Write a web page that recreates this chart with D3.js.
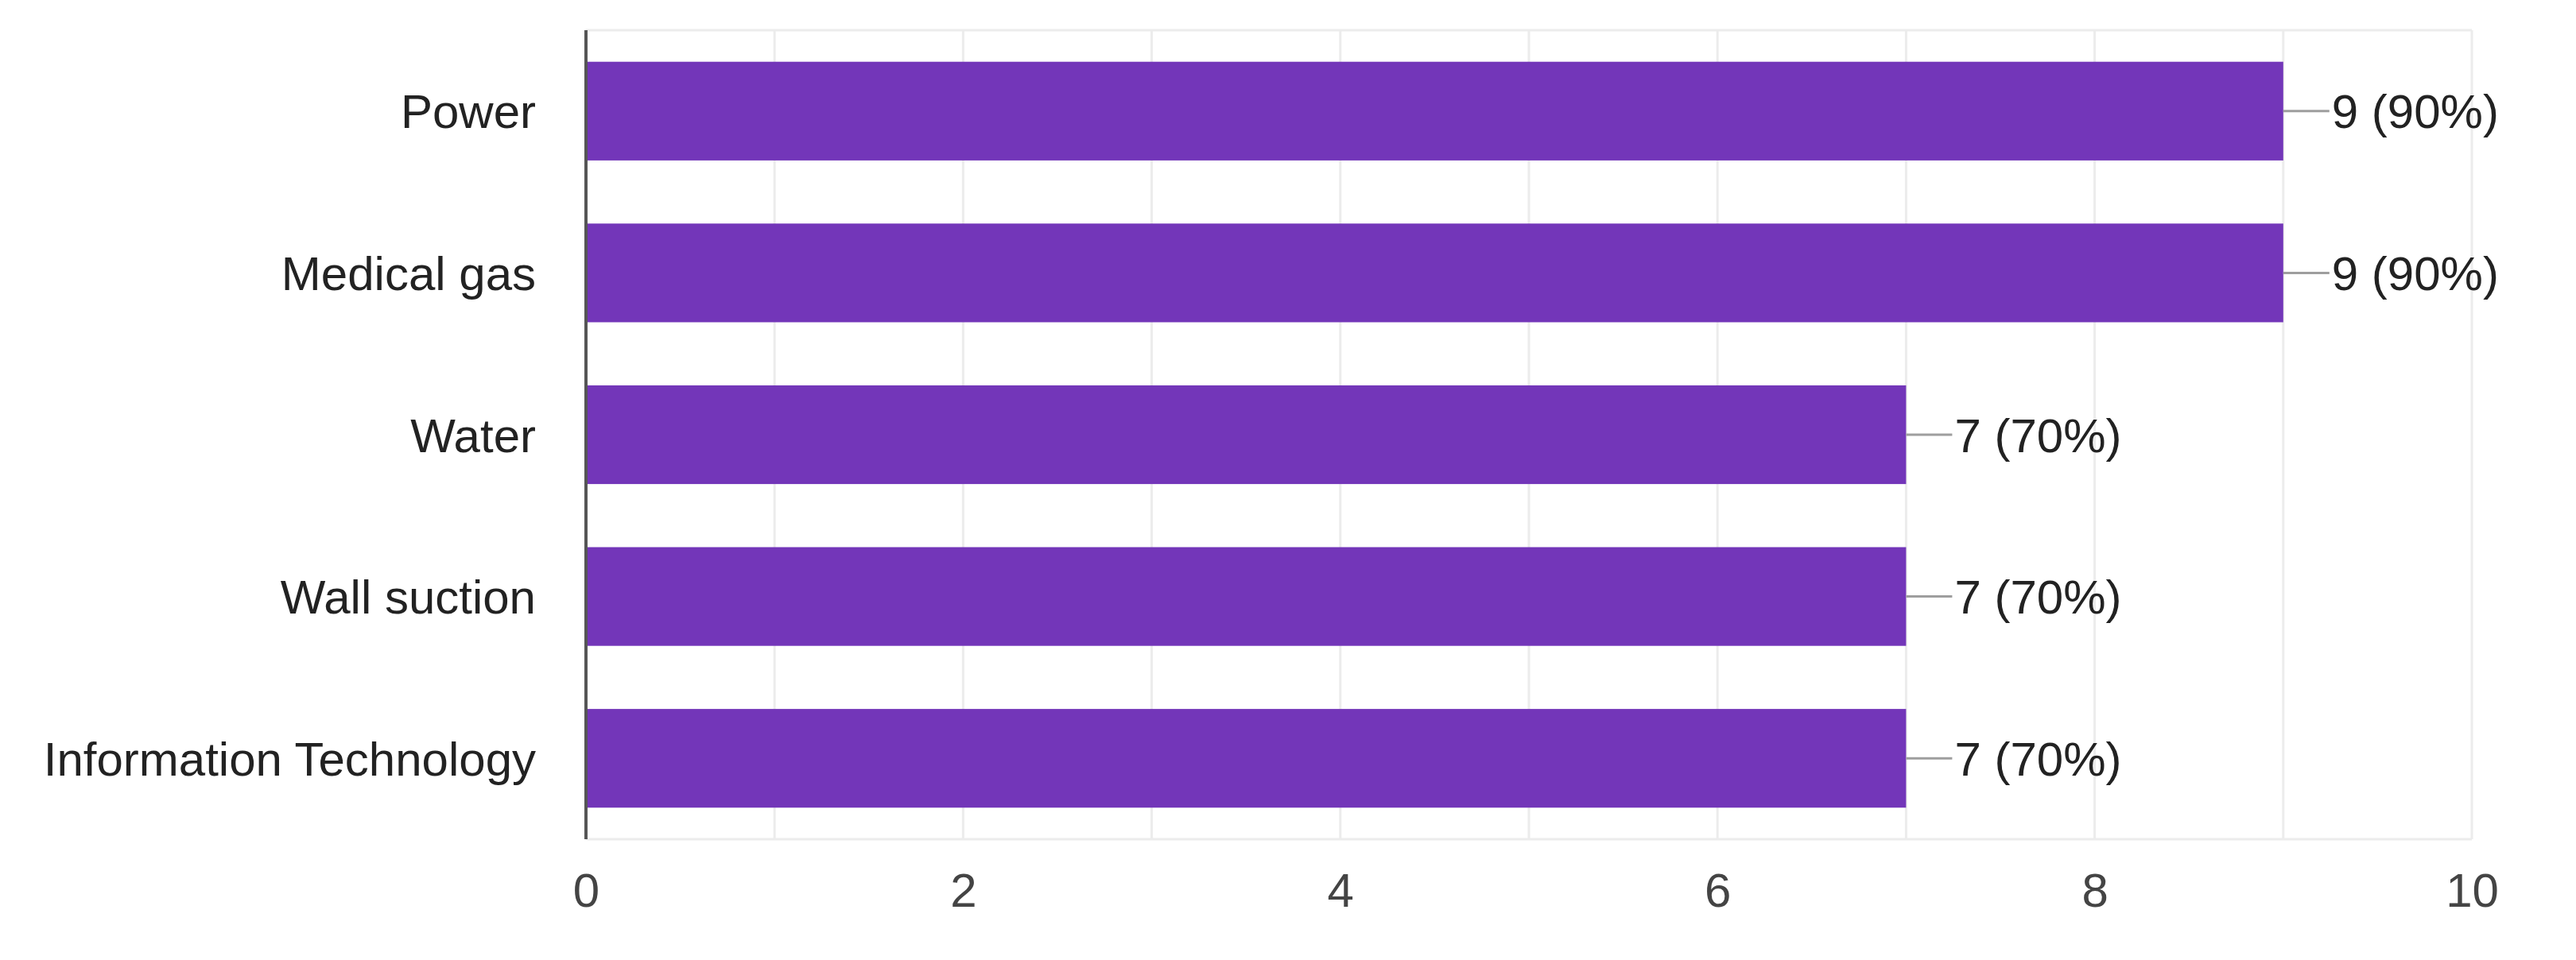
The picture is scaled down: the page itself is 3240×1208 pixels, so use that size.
<!DOCTYPE html>
<html>
<head>
<meta charset="utf-8">
<script src="https://cdn.jsdelivr.net/npm/d3@7"></script>
<style>
html,body{margin:0;padding:0;background:#fff;}
svg{display:block;}
text{font-family:"Liberation Sans", Arial, sans-serif;}
</style>
</head>
<body>
<svg id="chart" width="3240" height="1208"></svg>
<script>
const categories = ["Power", "Medical gas", "Water", "Wall suction", "Information Technology"];
const counts = [9, 9, 7, 7, 7];
const percents = [90, 90, 70, 70, 70];
const tickValues = [0, 2, 4, 6, 8, 10];

const W = 3240, H = 1208;
const margin = {left: 737, right: 131, top: 38, bottom: 152};
const svg = d3.select("#chart");

const x = d3.scaleLinear().domain([0, 10]).range([margin.left, W - margin.right]);
const y = d3.scaleBand().domain(categories).range([margin.top, H - margin.bottom]).paddingInner(0.39).paddingOuter(0.195);

const grid = svg.append("g");
// vertical gridlines
grid.selectAll("line.v").data(d3.range(1, 11)).enter().append("line")
  .attr("x1", d => x(d)).attr("x2", d => x(d))
  .attr("y1", margin.top).attr("y2", H - margin.bottom)
  .attr("stroke", "#ececec").attr("stroke-width", 3);
// top and bottom frame
grid.selectAll("line.h").data([margin.top, H - margin.bottom]).enter().append("line")
  .attr("x1", margin.left).attr("x2", x(10))
  .attr("y1", d => d).attr("y2", d => d)
  .attr("stroke", "#ececec").attr("stroke-width", 3);

// bars
svg.append("g").selectAll("rect").data(categories).enter().append("rect")
  .attr("x", x(0))
  .attr("y", d => y(d))
  .attr("width", (d, i) => x(counts[i]) - x(0))
  .attr("height", y.bandwidth())
  .attr("fill", "#7336b9");

// connectors and value labels
const lab = svg.append("g");
lab.selectAll("line").data(categories).enter().append("line")
  .attr("x1", (d, i) => x(counts[i]))
  .attr("x2", (d, i) => x(counts[i]) + 58)
  .attr("y1", d => y(d) + y.bandwidth() / 2)
  .attr("y2", d => y(d) + y.bandwidth() / 2)
  .attr("stroke", "#9e9e9e").attr("stroke-width", 3);
lab.selectAll("text").data(categories).enter().append("text")
  .attr("x", (d, i) => x(counts[i]) + 61)
  .attr("y", d => y(d) + y.bandwidth() / 2)
  .attr("dy", "0.36em")
  .attr("font-size", 60)
  .attr("fill", "#222")
  .text((d, i) => `${counts[i]} (${percents[i]}%)`);

// category labels
svg.append("g").selectAll("text").data(categories).enter().append("text")
  .attr("x", 674)
  .attr("y", d => y(d) + y.bandwidth() / 2)
  .attr("dy", "0.36em")
  .attr("text-anchor", "end")
  .attr("font-size", 60)
  .attr("fill", "#222")
  .text(d => d);

// x axis tick labels via d3 axis
const xAxis = d3.axisBottom(x).tickValues(tickValues).tickSize(0).tickPadding(0).tickFormat(d3.format("d"));
const ax = svg.append("g").attr("transform", `translate(0,${H - margin.bottom})`).call(xAxis);
ax.select(".domain").remove();
ax.selectAll("text")
  .attr("font-size", 60)
  .attr("font-family", "Liberation Sans, Arial, sans-serif")
  .attr("fill", "#444")
  .attr("y", 42)
  .attr("dy", "0.71em");

// left axis line
svg.append("line")
  .attr("x1", x(0)).attr("x2", x(0))
  .attr("y1", margin.top).attr("y2", H - margin.bottom)
  .attr("stroke", "#555").attr("stroke-width", 4);
</script>
</body>
</html>
